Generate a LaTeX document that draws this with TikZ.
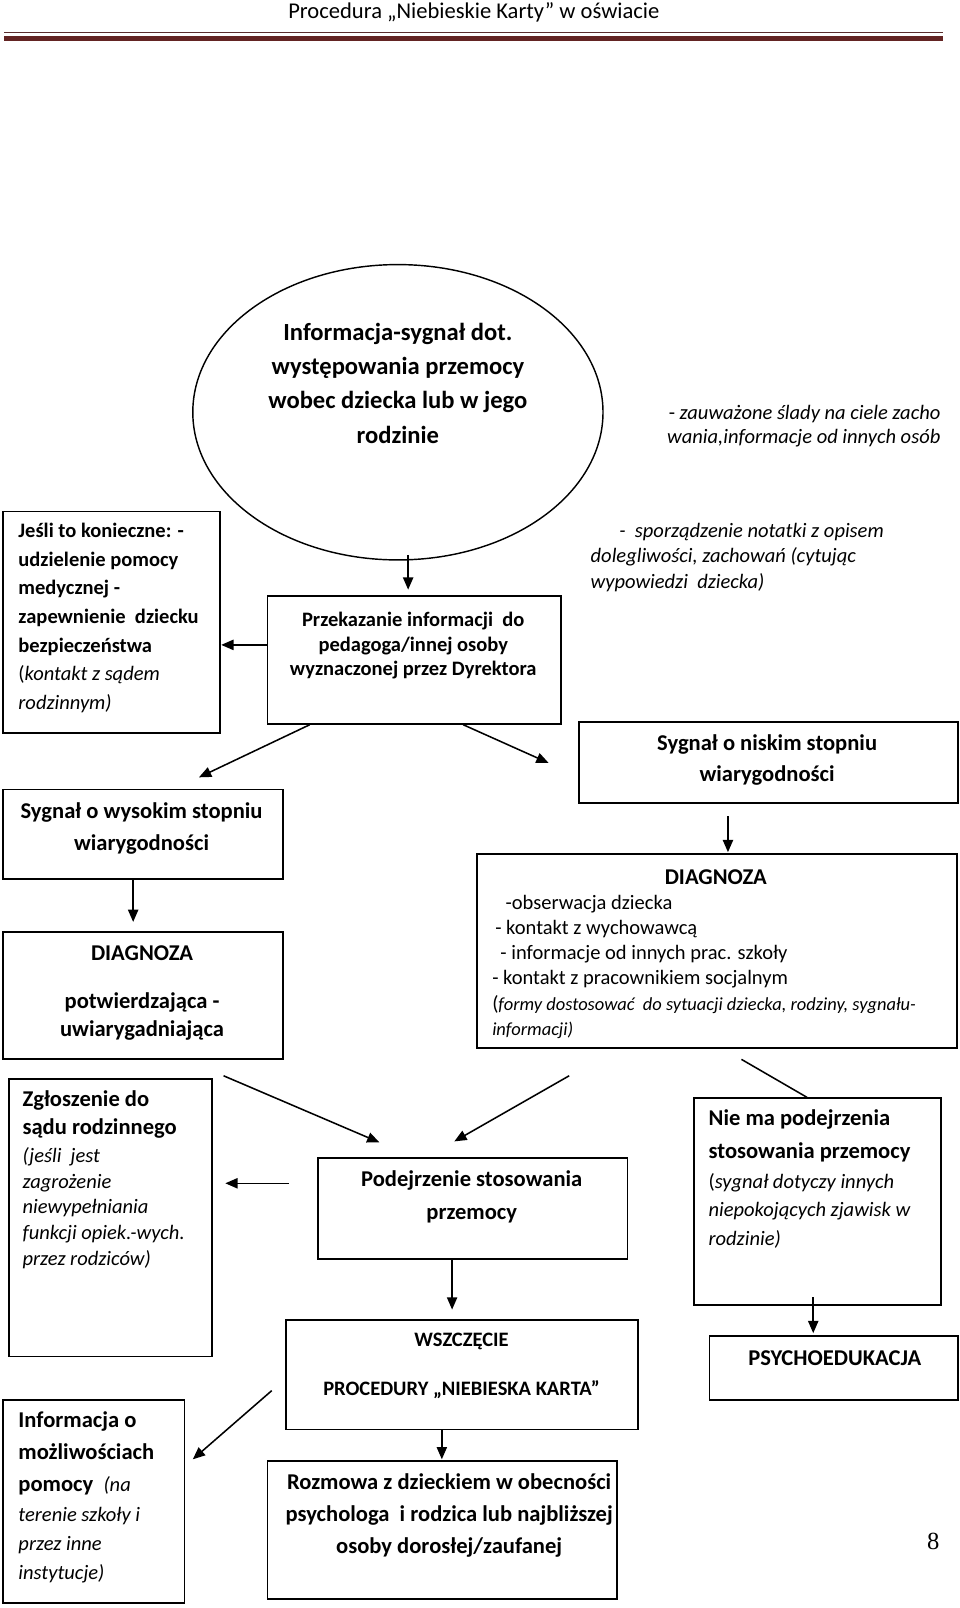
\documentclass[tikz,border=0pt]{standalone}
\usepackage{fontspec}
\setmainfont{Carlito}
\newfontfamily\serifnum{Liberation Serif}
\usetikzlibrary{arrows.meta,shapes.geometric}
\definecolor{hdrthin}{RGB}{90,45,45}
\definecolor{hdrthick}{RGB}{99,36,35}
\newcommand\myit[1]{{\mdseries\itshape #1}}
\newcommand\fs[2]{\fontsize{#1}{#2}\selectfont}
\begin{document}
\begin{tikzpicture}[x=1pt,y=-1pt,
 box/.style={draw, line width=1.7pt, rectangle, inner sep=0, anchor=north west},
 arr/.style={line width=1.5pt, -{Triangle[length=12pt,width=10pt]}},
 plainline/.style={line width=1.5pt},
 txt/.style={inner sep=0, outer sep=0},
]
\useasboundingbox (0,0) rectangle (936,1568);

% header
\node[txt, font=\fs{22}{26}] (hdr) at (462,12) {Procedura „Niebieskie Karty” w oświacie};
\draw[hdrthin, line width=1.2pt] (4,32) -- (920,32);
\draw[hdrthick, line width=4.8pt] (4,37.5) -- (920,37.5);

% ellipse
\node[draw, ellipse, line width=1.4pt, minimum width=400pt, minimum height=288pt, inner sep=0] (ell) at (388,402) {};
\node[txt, font=\fs{24}{33.5}\bfseries, align=center] (elltxt) at (388,373.5) {Informacja-sygnał dot.\\występowania przemocy\\wobec dziecka lub w jego\\rodzinie};

% right italic note
\node[txt, font=\fs{20}{24}\itshape, align=right, anchor=north east] (obs) at (917,395) {{\upshape -} zauważone ślady na ciele zacho\\wania,informacje od innych osób};

% Jesli box
\node[box, minimum width=212pt, minimum height=216pt] (jesli) at (2,498) {};
\node[txt, font=\fs{20}{28}\bfseries, align=left, anchor=north west] (jeslitxt) at (18,510) {Jeśli to konieczne: -\\udzielenie pomocy\\medycznej -\\zapewnienie~ dziecku\\bezpieczeństwa\\{\mdseries(}\myit{kontakt z sądem}\\\myit{rodzinnym)}};

% Przekazanie box
\node[box, minimum width=286pt, minimum height=125pt] (przek) at (260,580) {};
\node[txt, font=\fs{20}{24}\bfseries, align=center] (przektxt) at (403,629.5) {Przekazanie informacji~ do\\pedagoga/innej osoby\\wyznaczonej przez Dyrektora};

\coordinate (a1) at (398,541);
\draw[arr, shorten >=5pt] (a1) -- (a1 |- przek.north);
\draw[arr] ([yshift=14.5pt]przek.west) -- ([yshift=14.5pt]przek.west -| jesli.east);

% notatka
\node[txt, font=\fs{20}{25}\itshape, align=left, anchor=north west] (notatka) at (576,510) {\hspace*{28pt}-~ sporządzenie notatki z opisem\\dolegliwości, zachowań (cytując\\wypowiedzi~ dziecka)};

% diagonal arrows
\coordinate (d1) at (194,758);
\coordinate (d2) at (535,744);
\draw[arr] ([xshift=42pt]przek.south west) -- (d1);
\draw[arr] ([xshift=-96pt]przek.south east) -- (d2);

% niski
\node[box, minimum width=369pt, minimum height=79pt] (niski) at (564,703) {};
\node[txt, font=\fs{22}{30}\bfseries, align=center] (niskitxt) at (748,741) {Sygnał o niskim stopniu\\wiarygodności};

% wysoki
\node[box, minimum width=273pt, minimum height=87pt] (wysoki) at (2,769) {};
\node[txt, font=\fs{22}{31}\bfseries, align=center] (wysokitxt) at (138,807.5) {Sygnał o wysokim stopniu\\wiarygodności};

% diag1
\node[box, minimum width=273pt, minimum height=124pt] (diag1) at (2,908) {};
\node[txt, font=\fs{22}{27}\bfseries, align=center, anchor=north] (diag1txt) at (138.5,922) {DIAGNOZA\\[20pt]potwierdzająca -\\uwiarygadniająca};
\draw[arr, shorten >=9pt] ([xshift=-9.5pt]wysoki.south) -- ([xshift=-9.5pt]diag1.north);

% diag2
\node[box, minimum width=468pt, minimum height=189pt] (diag2) at (464,832) {};
\node[txt, font=\fs{22}{26}\bfseries] (diag2title) at (698,855) {DIAGNOZA};
\node[txt, font=\fs{20}{24.5}, align=left, anchor=north west] (diag2txt) at (480,873) {\hspace*{13pt}-obserwacja dziecka\\\hspace*{3pt}- kontakt z wychowawcą\\\hspace*{8pt}- informacje od innych prac. szkoły\\- kontakt z pracownikiem socjalnym\\(\fs{18}{24.5}\itshape formy dostosować~ do sytuacji dziecka, rodziny, sygnału-\\{\fs{18}{24.5}\itshape informacji)}};
\draw[arr, shorten <=12pt, shorten >=1pt] ([xshift=-39.5pt]niski.south) -- ([xshift=-39.5pt]niski.south |- diag2.north);

% zgloszenie
\node[box, minimum width=198pt, minimum height=271pt] (zgl) at (8,1051) {};
\node[txt, font=\fs{22}{27}\bfseries, align=left, anchor=north west] (zgltxt) at (22,1064) {Zgłoszenie do\\sądu rodzinnego};
\node[txt, font=\fs{20}{25}\itshape, align=left, anchor=north west] (zglit) at (22,1119) {(jeśli~ jest\\zagrożenie\\niewypełniania\\funkcji opiek.-wych.\\przez rodziców)};

% podejrzenie
\node[box, minimum width=302pt, minimum height=99pt] (podej) at (309,1128) {};
\node[txt, font=\fs{22}{32}\bfseries, align=center] (podejtxt) at (460,1167) {Podejrzenie stosowania\\przemocy};
\draw[arr, shorten >=12pt] ([xshift=-27pt,yshift=24.5pt]podej.west) -- ([yshift=24.5pt]podej.west -| zgl.east);

\coordinate (p1s) at (218,1049);
\coordinate (p1e) at (370,1114);
\coordinate (p2s) at (555,1049);
\coordinate (p2e) at (443,1113);
\draw[arr] (p1s) -- (p1e);
\draw[arr] (p2s) -- (p2e);

% nie ma
\node[box, minimum width=241pt, minimum height=202pt] (niema) at (676,1070) {};
\node[txt, font=\fs{22}{32}\bfseries, align=left, anchor=north west] (niematxt) at (691,1082) {Nie ma podejrzenia\\stosowania przemocy};
\node[txt, font=\fs{20}{28}\itshape, align=left, anchor=north west] (niemait) at (691,1144) {{\upshape(}sygnał dotyczy innych\\niepokojących zjawisk w\\rodzinie)};
\coordinate (n1) at (723,1033);
\draw[plainline] (n1) -- ([xshift=-10.5pt]niema.north);

% wszczecie
\node[box, minimum width=343pt, minimum height=107pt] (wszcz) at (278,1286) {};
\node[txt, font=\fs{20}{48}\bfseries, align=center] (wszcztxt) at (450,1332) {WSZCZĘCIE\\PROCEDURY „NIEBIESKA KARTA”};
\draw[arr, shorten >=9pt] ([xshift=-20pt]podej.south) -- ([xshift=-20pt]podej.south |- wszcz.north);

% psychoedukacja
\node[box, minimum width=242pt, minimum height=62pt] (psycho) at (691,1302) {};
\node[txt, font=\fs{22}{26}\bfseries] (psychotxt) at (814,1324) {PSYCHOEDUKACJA};
\coordinate (ps) at (793,1265);
\draw[arr, shorten >=2pt] (ps) -- (ps |- psycho.north);

% informacja o mozliwosciach
\node[box, minimum width=177pt, minimum height=198pt] (info) at (2,1364) {};
\node[txt, font=\fs{22}{31}\bfseries, align=left, anchor=north west] (infotxt) at (18,1377) {Informacja o\\możliwościach\\pomocy~ \myit{\fs{20}{31}(na}};
\node[txt, font=\fs{20}{28}\itshape, align=left, anchor=north west] (infoit) at (18,1470) {terenie szkoły i\\przez inne\\instytucje)};
\coordinate (i1) at (265,1356);
\coordinate (i2) at (188,1423);
\draw[arr] (i1) -- (i2);

% rozmowa
\node[box, minimum width=341pt, minimum height=134pt] (rozm) at (260,1424) {};
\node[txt, font=\fs{22}{31}\bfseries, align=center] (rozmtxt) at (438,1478) {Rozmowa z dzieckiem w obecności\\psychologa~ i rodzica lub najbliższej\\osoby dorosłej/zaufanej};
\draw[arr, shorten >=1pt] ([xshift=-19.5pt]wszcz.south) -- ([xshift=-19.5pt]wszcz.south |- rozm.north);

% page number
\node[txt, font=\serifnum\fs{24}{28}] (pgnum) at (910,1503) {8};
\end{tikzpicture}
\end{document}
